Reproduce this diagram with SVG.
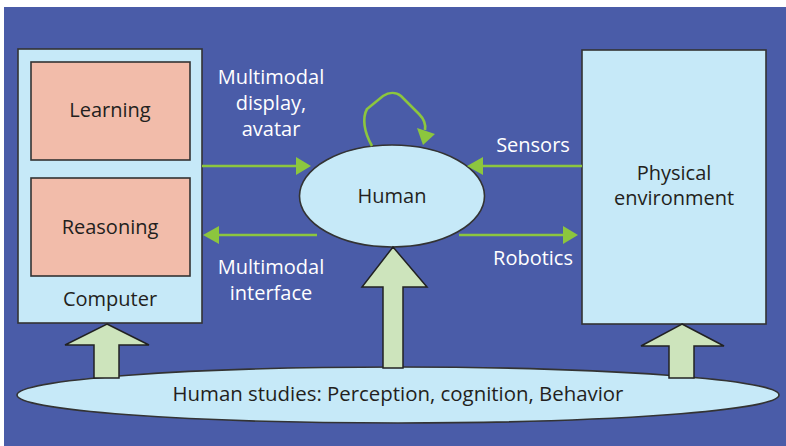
<svg xmlns="http://www.w3.org/2000/svg" width="786" height="446" viewBox="0 0 786 446">
<defs>
<style>
.box{fill:#c6e9f8;stroke:#333;stroke-width:1.6}
.sub{fill:#f2bcaa;stroke:#333;stroke-width:1.6}
.big{fill:#cde4bc;stroke:#222;stroke-width:1.5;stroke-linejoin:miter}
.ln{stroke:#8cc63e;stroke-width:2.6;fill:none}
.hd{fill:#8cc63e}
.dk{font-family:"Open Sans","Liberation Sans",sans-serif;font-size:20px;fill:#231f20;text-anchor:middle}
.wt{font-family:"Open Sans","Liberation Sans",sans-serif;font-size:20px;fill:#ffffff;text-anchor:middle}
</style>
</defs>
<rect x="0" y="0" width="786" height="446" fill="#ffffff"/>
<rect x="4" y="7" width="782" height="439" fill="#4a5ca8"/>

<g id="studies">
<ellipse cx="398" cy="395" rx="381" ry="28" class="box"/>
<text x="398" y="401" class="dk" style="font-size:20.4px">Human studies: Perception, cognition, Behavior</text>
</g>

<g id="computer">
<rect x="18" y="49" width="184" height="274" class="box"/>
<text x="110" y="306" class="dk">Computer</text>
</g>
<g id="learning">
<rect x="31" y="62" width="159" height="98" class="sub"/>
<text x="110" y="117" class="dk">Learning</text>
</g>
<g id="reasoning">
<rect x="31" y="178" width="159" height="98" class="sub"/>
<text x="110" y="234" class="dk">Reasoning</text>
</g>

<g id="physical">
<rect x="582" y="50" width="184" height="274" class="box"/>
<text x="674" y="180" class="dk">Physical</text>
<text x="674" y="205" class="dk">environment</text>
</g>

<g id="human">
<ellipse cx="392" cy="196" rx="92.5" ry="51" class="box"/>
<text x="392" y="203" class="dk">Human</text>
</g>

<g id="connectors">
<polygon class="big" points="107,324 149,345 119,345 119,378 94,378 94,345 65,345"/>
<polygon class="big" points="393,247 427,287 403,287 403,368 383,368 383,287 362,287"/>
<polygon class="big" points="682,324 724,346 694,346 694,378 669,378 669,346 641,346"/>

<line class="ln" x1="202" y1="166" x2="298" y2="166"/>
<polygon class="hd" points="311,166 296,157 296,175"/>
<line class="ln" x1="317" y1="235" x2="217" y2="235"/>
<polygon class="hd" points="203,235 219,226 219,244"/>
<line class="ln" x1="582" y1="166" x2="481" y2="166"/>
<polygon class="hd" points="467,166 483,157 483,175"/>
<line class="ln" x1="459" y1="235" x2="565" y2="235"/>
<polygon class="hd" points="578,235 563,226 563,244"/>

<path class="ln" d="M372,146 C364,132 362,118 367,109 L383,96 C389,92 396,92 401,96 L419,114 C424,119 426,124 425,130"/>
<polygon class="hd" points="423,145 417,128 435,134"/>

<text x="271" y="84" class="wt">Multimodal</text>
<text x="271" y="110" class="wt">display,</text>
<text x="271" y="136" class="wt">avatar</text>
<text x="271" y="274" class="wt">Multimodal</text>
<text x="271" y="300" class="wt">interface</text>
<text x="533" y="152" class="wt">Sensors</text>
<text x="533" y="265" class="wt">Robotics</text>
</g>
</svg>
